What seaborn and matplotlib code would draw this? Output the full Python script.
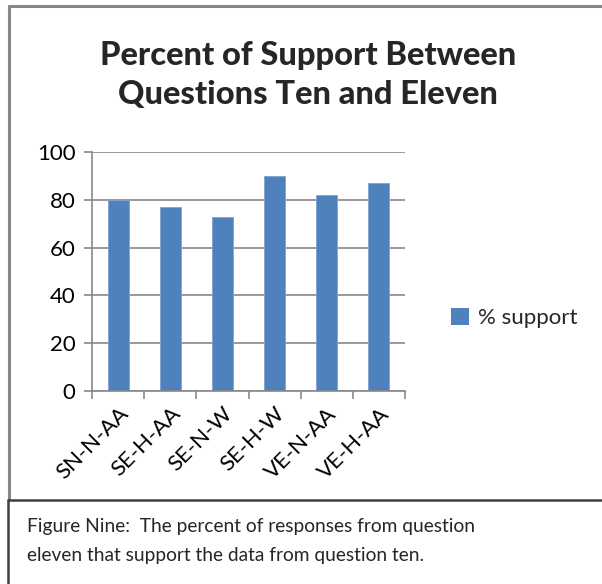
import matplotlib
matplotlib.use("Agg")
import matplotlib.pyplot as plt
import seaborn as sns
import pandas as pd
from matplotlib.lines import Line2D
from matplotlib.patches import Patch

categories = ["SN-N-AA", "SE-H-AA", "SE-N-W", "SE-H-W", "VE-N-AA", "VE-H-AA"]
support = [80, 77, 73, 90, 82, 87]
series_name = "% support"
title = "Percent of Support Between\nQuestions Ten and Eleven"
caption = "Figure Nine:  The percent of responses from question\neleven that support the data from question ten."

sns.set_theme(style="white")
FONT = ["Lato", "DejaVu Sans"]
plt.rcParams["font.family"] = FONT

df = pd.DataFrame({"cat": categories, "val": support})

fig = plt.figure(figsize=(6.02, 5.84), dpi=100)
ax = fig.add_axes([92 / 602, 1 - 391 / 584, (405 - 92) / 602, (391 - 152) / 584])

bar_color = "#4F81BD"
sns.barplot(data=df, x="cat", y="val", color=bar_color, width=0.4,
            edgecolor="#7FA3D0", linewidth=0.6, ax=ax, saturation=1)

ax.set_ylim(0, 100)
ax.set_xlim(-0.5, len(categories) - 0.5)
ax.set_yticks([0, 20, 40, 60, 80, 100])
ax.yaxis.grid(True, color="#878787", linewidth=1.2)
ax.set_axisbelow(True)
ax.set_xlabel("")
ax.set_ylabel("")
for s in ["top", "right"]:
    ax.spines[s].set_visible(False)
for s in ["left", "bottom"]:
    ax.spines[s].set_color("#878787")
    ax.spines[s].set_linewidth(1.2)

ax.tick_params(axis="y", which="major", length=6, width=1.2, color="#878787",
               labelsize=16, pad=6, left=True, labelcolor="black")
ax.set_xticks(range(len(categories)))
ax.set_xticklabels(categories, rotation=45, ha="right", rotation_mode="anchor")
ax.tick_params(axis="x", which="major", length=0, labelsize=16, pad=9, labelcolor="black")
ax.set_xticks([i - 0.5 for i in range(len(categories) + 1)], minor=True)
ax.tick_params(axis="x", which="minor", length=6, width=1.2, color="#878787", bottom=True)
for lbl in ax.get_xticklabels():
    lbl.set_fontfamily(FONT)
for lbl in ax.get_yticklabels():
    lbl.set_fontfamily(FONT)

fig.text(308 / 602, 1 - 75 / 584, title, ha="center", va="center",
         fontsize=23.5, fontweight="black", linespacing=1.45, family=FONT)

handle = Patch(facecolor=bar_color, edgecolor="none")
fig.legend([handle], [series_name], loc="center left",
           bbox_to_anchor=(431 / 602, 1 - 318 / 584), frameon=False,
           handlelength=0.8, handleheight=0.8, handletextpad=0.4,
           prop={"family": FONT, "size": 16})

def px(x, y):
    return (x / 602, 1 - y / 584)

gray = "#878787"
fig.add_artist(Line2D([px(9, 0)[0], 1.0], [px(0, 6)[1]] * 2, color=gray, lw=2.2,
                      transform=fig.transFigure))
fig.add_artist(Line2D([px(9, 0)[0]] * 2, [px(0, 6)[1], px(0, 500)[1]], color=gray, lw=2.2,
                      transform=fig.transFigure))
fig.add_artist(Line2D([px(8, 0)[0], 1.0], [px(0, 500)[1]] * 2, color="#404040", lw=1.8,
                      transform=fig.transFigure))
fig.add_artist(Line2D([px(8, 0)[0]] * 2, [px(0, 500)[1], 0.0], color="#404040", lw=1.8,
                      transform=fig.transFigure))

fig.text(27 / 602, 1 - 541 / 584, caption, ha="left", va="center",
         fontsize=13.8, linespacing=1.8, family=FONT)

fig.savefig("out.png", dpi=100)
